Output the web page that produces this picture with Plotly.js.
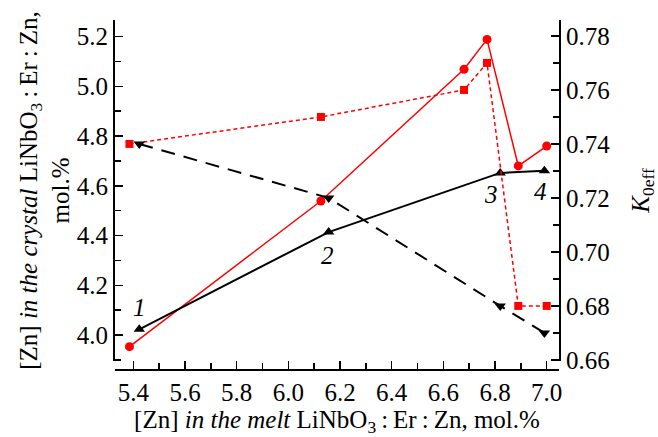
<!DOCTYPE html>
<html>
<head>
<meta charset="utf-8">
<script src="https://cdn.plot.ly/plotly-3.0.1.min.js"></script>
<style>html,body{margin:0;padding:0;background:#fff;}#chart{width:658px;height:437px;}</style>
</head>
<body>
<div id="chart"></div>
<script>
// Red circles: [Zn] in crystal (left axis) vs melt
const redMeltX = [5.385, 6.126, 6.68, 6.769, 6.89, 7.0];
const redCrystalZn = [3.953, 4.539, 5.069, 5.189, 4.68, 4.76];
// Red squares: K0eff (right axis)
const redK = [0.74, 0.75, 0.76, 0.77, 0.68, 0.68];
// Black up-triangles: [Zn] in crystal (left axis), samples 1-4
const blackMeltX = [5.423, 6.156, 6.82, 6.991];
const blackCrystalZn = [4.023, 4.414, 4.652, 4.661];
// Black down-triangles: K0eff (right axis)
const blackK = [0.74, 0.72, 0.68, 0.67];
const sampleLabels = ["1", "2", "3", "4"];

const FONT = "Liberation Serif";
const RED = "#ff0000";

const traces = [
  {x: redMeltX, y: redK, yaxis: "y2", mode: "lines+markers",
   line: {color: RED, width: 1.5, dash: "4px,3px"},
   marker: {symbol: "square", size: 8, color: RED}},
  {x: redMeltX, y: redCrystalZn, yaxis: "y", mode: "lines+markers",
   line: {color: RED, width: 1.5},
   marker: {symbol: "circle", size: 9, color: RED}},
  {x: blackMeltX, y: blackK, yaxis: "y2", mode: "lines+markers",
   line: {color: "#000", width: 2, dash: "14px,9px"},
   marker: {symbol: "triangle-down", size: 10, color: "#000"}},
  {x: blackMeltX, y: blackCrystalZn, yaxis: "y", mode: "lines+markers",
   line: {color: "#000", width: 2},
   marker: {symbol: "triangle-up", size: 10, color: "#000"}}
];

const shifts = [[0, 22], [-1, -23], [-9, -22], [-4, -21]];
const annotations = sampleLabels.map((t, i) => ({
  x: blackMeltX[i], y: blackCrystalZn[i], xref: "x", yref: "y",
  text: "<i>" + t + "</i>", showarrow: false,
  xshift: shifts[i][0], yshift: shifts[i][1],
  font: {family: FONT, size: 25, color: "#000"}
}));

const tickFont = {family: FONT, size: 25, color: "#000"};
const titleFont = {family: FONT, size: 25, color: "#000"};
const yDomain = [9 / 350, 1];

const layout = {
  width: 658, height: 437,
  margin: {l: 115, r: 99, t: 20, b: 67},
  paper_bgcolor: "#fff", plot_bgcolor: "#fff",
  showlegend: false,
  font: {family: FONT, color: "#000", size: 25},
  xaxis: {
    range: [5.329, 7.0476], anchor: "free", position: 0,
    showline: true, linewidth: 2, linecolor: "#000",
    showgrid: false, zeroline: false,
    tick0: 5.4, dtick: 0.2, tickformat: ".1f",
    ticks: "inside", ticklen: 8, tickwidth: 1.5, tickcolor: "#000",
    minor: {dtick: 0.1, tick0: 5.4, ticks: "inside", ticklen: 6, tickwidth: 1.5, tickcolor: "#000", showgrid: false},
    tickfont: tickFont,
    title: {text: "[Zn] <i>in the melt</i> LiNbO<sub>3</sub>\u2009:\u2009Er\u2009:\u2009Zn, mol.%",
            font: titleFont, standoff: 7}
  },
  yaxis: {
    domain: yDomain, range: [3.8954, 5.267],
    showline: true, linewidth: 2, linecolor: "#000",
    showgrid: false, zeroline: false,
    tick0: 4.0, dtick: 0.2, tickformat: ".1f",
    ticks: "inside", ticklen: 8, tickwidth: 1.5, tickcolor: "#000",
    minor: {dtick: 0.1, tick0: 4.0, ticks: "inside", ticklen: 6, tickwidth: 1.5, tickcolor: "#000", showgrid: false},
    tickfont: tickFont,
    title: {text: "[Zn] <i>in the crystal</i> LiNbO<sub>3</sub>\u2009:\u2009Er\u2009:\u2009Zn,<br>mol.%",
            font: titleFont, standoff: 0}
  },
  yaxis2: {
    domain: yDomain, range: [0.6596, 0.7859],
    overlaying: "y", side: "right", anchor: "x",
    showline: true, linewidth: 2, linecolor: "#000",
    showgrid: false, zeroline: false,
    tick0: 0.66, dtick: 0.02, tickformat: ".2f",
    ticks: "inside", ticklen: 8, tickwidth: 1.5, tickcolor: "#000",
    minor: {dtick: 0.01, tick0: 0.66, ticks: "inside", ticklen: 6, tickwidth: 1.5, tickcolor: "#000", showgrid: false},
    tickfont: tickFont,
    title: {text: "<i>K</i><sub>0eff</sub>", font: titleFont, standoff: 22}
  },
  annotations: annotations
};

Plotly.newPlot("chart", traces, layout, {staticPlot: true, displayModeBar: false});
</script>
</body>
</html>
